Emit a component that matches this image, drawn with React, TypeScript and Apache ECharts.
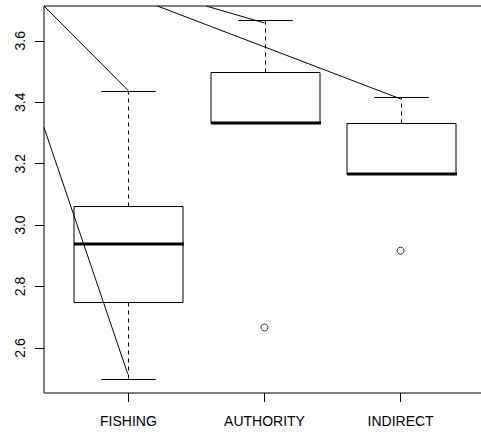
import React, { useEffect, useRef } from "react";
import * as echarts from "echarts";

const categories = ["FISHING", "AUTHORITY", "INDIRECT"];
const categoryPositions = [1, 2, 3];
const whiskerLow = [2.5, 3.3333, 3.1667];
const quartile1 = [2.75, 3.3333, 3.1667];
const medians = [2.9375, 3.3333, 3.1667];
const quartile3 = [3.0625, 3.5, 3.3333];
const whiskerHigh = [3.4375, 3.6667, 3.4167];
const outliers: [number, number][] = [
  [2, 2.6667],
  [3, 2.9167],
];
const yTicks = [2.6, 2.8, 3.0, 3.2, 3.4, 3.6];
const overlayLines: [number, number][][] = [
  [
    [0.38, 3.7133],
    [1, 3.4375],
  ],
  [
    [0.38, 3.318],
    [0.995, 2.516],
  ],
  [
    [1.213, 3.7133],
    [3.005, 3.41],
  ],
  [
    [1.571, 3.7133],
    [2, 3.658],
  ],
];

const FONT = "'Liberation Sans', Arial, sans-serif";

export default function App() {
  const ref = useRef<HTMLDivElement>(null);
  useEffect(() => {
    if (!ref.current) return;
    const chart = echarts.init(ref.current, undefined, { renderer: "svg" });
    const boxData = categoryPositions.map((x, i) => [
      x,
      whiskerLow[i],
      quartile1[i],
      medians[i],
      quartile3[i],
      whiskerHigh[i],
    ]);
    const option: any = {
      animation: false,
      backgroundColor: "#fff",
      grid: {
        left: 44,
        top: 6,
        width: 441,
        height: 387,
        show: true,
        borderColor: "#000",
        borderWidth: 1,
        backgroundColor: "transparent",
        outerBoundsMode: "none",
        containLabel: false,
      },
      xAxis: {
        type: "value",
        min: 0.38,
        max: 3.62,
        axisLine: { show: false },
        splitLine: { show: false },
        axisTick: {
          show: true,
          customValues: categoryPositions,
          length: 9,
          lineStyle: { color: "#000", width: 1 },
        },
        axisLabel: {
          customValues: categoryPositions,
          formatter: (v: number) => categories[Math.round(v) - 1],
          fontSize: 14,
          fontFamily: FONT,
          color: "#000",
          margin: 21,
        },
      },
      yAxis: {
        type: "value",
        min: 2.4533,
        max: 3.7133,
        axisLine: { show: false },
        splitLine: { show: false },
        axisTick: {
          show: true,
          customValues: yTicks,
          length: 9,
          lineStyle: { color: "#000", width: 1 },
        },
        axisLabel: {
          customValues: yTicks,
          formatter: (v: number) => v.toFixed(1),
          rotate: 90,
          fontSize: 14,
          fontFamily: FONT,
          color: "#000",
          margin: 17,
        },
      },
      series: [
        {
          type: "custom",
          data: boxData,
          encode: { x: 0, y: [1, 2, 3, 4, 5] },
          clip: true,
          z: 2,
          renderItem: (params: any, api: any) => {
            const x = api.value(0);
            const pLow = api.coord([x, api.value(1)]);
            const pQ1 = api.coord([x, api.value(2)]);
            const pMed = api.coord([x, api.value(3)]);
            const pQ3 = api.coord([x, api.value(4)]);
            const pHigh = api.coord([x, api.value(5)]);
            const halfW = api.size([0.4, 0])[0];
            const capHalf = api.size([0.2, 0])[0];
            const cx = Math.round(pMed[0]) + 0.5;
            const r = (v: number) => Math.round(v) + 0.5;
            const children: any[] = [];
            const dash = { stroke: "#000", lineWidth: 1, lineDash: [4, 4], fill: null };
            const solid = { stroke: "#000", lineWidth: 1, fill: null };
            if (pHigh[1] < pQ3[1]) {
              children.push({
                type: "line",
                shape: { x1: cx, y1: r(pQ3[1]), x2: cx, y2: r(pHigh[1]) },
                style: dash,
              });
            }
            if (pLow[1] > pQ1[1]) {
              children.push({
                type: "line",
                shape: { x1: cx, y1: r(pQ1[1]), x2: cx, y2: r(pLow[1]) },
                style: dash,
              });
            }
            children.push({
              type: "line",
              shape: { x1: cx - capHalf, y1: r(pHigh[1]), x2: cx + capHalf, y2: r(pHigh[1]) },
              style: solid,
            });
            children.push({
              type: "line",
              shape: { x1: cx - capHalf, y1: r(pLow[1]), x2: cx + capHalf, y2: r(pLow[1]) },
              style: solid,
            });
            children.push({
              type: "rect",
              shape: {
                x: Math.round(cx - halfW),
                y: r(pQ3[1]),
                width: Math.round(2 * halfW),
                height: Math.round(pQ1[1] - pQ3[1]),
              },
              style: { stroke: "#000", lineWidth: 1, fill: "transparent" },
            });
            children.push({
              type: "line",
              shape: {
                x1: Math.round(cx - halfW),
                y1: Math.round(pMed[1]),
                x2: Math.round(cx + halfW) + 1,
                y2: Math.round(pMed[1]),
              },
              style: { stroke: "#000", lineWidth: 3, fill: null },
            });
            return { type: "group", children };
          },
        },
        {
          type: "scatter",
          data: outliers,
          symbol: "circle",
          symbolSize: 7,
          itemStyle: { color: "transparent", borderColor: "#000", borderWidth: 1 },
          z: 3,
        },
        ...overlayLines.map((seg) => ({
          type: "line",
          data: seg,
          symbol: "none",
          clip: true,
          lineStyle: { color: "#000", width: 1 },
          z: 4,
        })),
      ],
    };
    chart.setOption(option);
    return () => chart.dispose();
  }, []);
  return (
    <div
      ref={ref}
      style={{ position: "fixed", left: 0, top: 0, width: 481, height: 434, background: "#fff" }}
    />
  );
}
